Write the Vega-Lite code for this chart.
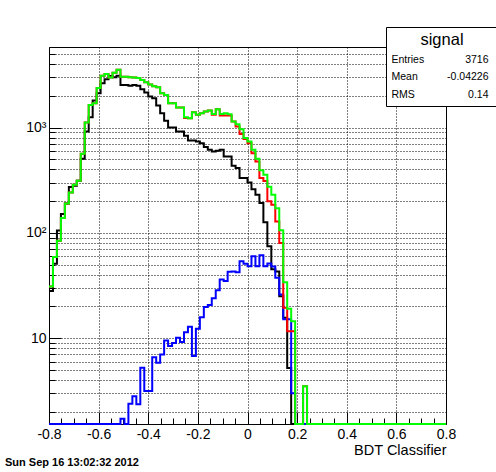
{
  "$schema": "https://vega.github.io/schema/vega-lite/v6.json",
  "width": 397,
  "height": 377,
  "autosize": {"type": "none"},
  "padding": {"left": 49, "top": 47, "right": 50, "bottom": 48},
  "background": "white",
  "config": {
    "font": "Liberation Sans",
    "view": {"stroke": "black", "strokeWidth": 1},
    "axis": {"labelColor": "black", "tickColor": "black", "titleColor": "black", "labelOverlap": false}
  },
  "title": {
    "text": "Sun Sep 16 13:02:32 2012",
    "orient": "bottom",
    "anchor": "start",
    "frame": "group",
    "fontSize": 11,
    "fontWeight": "bold",
    "color": "black",
    "dx": -44,
    "offset": 0
  },
  "datasets": {
    "bins": [
      {"x": -0.8, "black": 28, "blue": 0, "red": 31, "green": 31},
      {"x": -0.784, "black": 51, "blue": 0, "red": 59, "green": 59},
      {"x": -0.768, "black": 105, "blue": 0, "red": 84, "green": 84},
      {"x": -0.752, "black": 151, "blue": 0, "red": 138, "green": 138},
      {"x": -0.736, "black": 190, "blue": 0, "red": 190, "green": 190},
      {"x": -0.72, "black": 272, "blue": 0, "red": 242, "green": 242},
      {"x": -0.704, "black": 280, "blue": 0, "red": 286, "green": 286},
      {"x": -0.688, "black": 313, "blue": 0, "red": 313, "green": 313},
      {"x": -0.672, "black": 505, "blue": 0, "red": 563, "green": 563},
      {"x": -0.656, "black": 917, "blue": 0, "red": 1115, "green": 1115},
      {"x": -0.64, "black": 1255, "blue": 0, "red": 1640, "green": 1640},
      {"x": -0.624, "black": 1803, "blue": 0, "red": 1700, "green": 1700},
      {"x": -0.608, "black": 2120, "blue": 0, "red": 2380, "green": 2380},
      {"x": -0.592, "black": 2636, "blue": 0, "red": 3110, "green": 3110},
      {"x": -0.576, "black": 2875, "blue": 0, "red": 3230, "green": 3230},
      {"x": -0.56, "black": 3090, "blue": 0, "red": 2980, "green": 2980},
      {"x": -0.544, "black": 3000, "blue": 0, "red": 3320, "green": 3320},
      {"x": -0.528, "black": 3110, "blue": 0, "red": 3530, "green": 3530},
      {"x": -0.512, "black": 2540, "blue": 1.72, "red": 3040, "green": 3040},
      {"x": -0.496, "black": 2540, "blue": 0, "red": 3040, "green": 3040},
      {"x": -0.48, "black": 2490, "blue": 2.38, "red": 3000, "green": 3000},
      {"x": -0.464, "black": 2540, "blue": 2.8, "red": 2980, "green": 2980},
      {"x": -0.448, "black": 2490, "blue": 2.35, "red": 2950, "green": 2950},
      {"x": -0.432, "black": 2312, "blue": 5.24, "red": 2830, "green": 2830},
      {"x": -0.416, "black": 2150, "blue": 3.15, "red": 2690, "green": 2690},
      {"x": -0.4, "black": 1967, "blue": 3.15, "red": 2560, "green": 2560},
      {"x": -0.384, "black": 1900, "blue": 6.6, "red": 2470, "green": 2470},
      {"x": -0.368, "black": 1617, "blue": 5.85, "red": 2420, "green": 2420},
      {"x": -0.352, "black": 1369, "blue": 7.0, "red": 2120, "green": 2120},
      {"x": -0.336, "black": 1158, "blue": 9.5, "red": 2040, "green": 2040},
      {"x": -0.32, "black": 1000, "blue": 8.4, "red": 1703, "green": 1703},
      {"x": -0.304, "black": 1000, "blue": 9.0, "red": 1703, "green": 1703},
      {"x": -0.288, "black": 917, "blue": 10.1, "red": 1548, "green": 1548},
      {"x": -0.272, "black": 917, "blue": 9.2, "red": 1548, "green": 1548},
      {"x": -0.256, "black": 834, "blue": 11.4, "red": 1230, "green": 1255},
      {"x": -0.24, "black": 753, "blue": 12.8, "red": 1227, "green": 1227},
      {"x": -0.224, "black": 753, "blue": 6.75, "red": 1400, "green": 1400},
      {"x": -0.208, "black": 737, "blue": 12.3, "red": 1320, "green": 1320},
      {"x": -0.192, "black": 711, "blue": 15.8, "red": 1369, "green": 1369},
      {"x": -0.176, "black": 652, "blue": 19.8, "red": 1419, "green": 1419},
      {"x": -0.16, "black": 615, "blue": 20.7, "red": 1450, "green": 1450},
      {"x": -0.144, "black": 593, "blue": 23.9, "red": 1320, "green": 1348},
      {"x": -0.128, "black": 601, "blue": 28.5, "red": 1494, "green": 1494},
      {"x": -0.112, "black": 615, "blue": 36, "red": 1300, "green": 1348},
      {"x": -0.096, "black": 531, "blue": 34.8, "red": 1300, "green": 1369},
      {"x": -0.08, "black": 531, "blue": 42.6, "red": 1300, "green": 1340},
      {"x": -0.064, "black": 434, "blue": 43, "red": 1140, "green": 1140},
      {"x": -0.048, "black": 412, "blue": 42.2, "red": 1022, "green": 1072},
      {"x": -0.032, "black": 331, "blue": 53.7, "red": 870, "green": 962},
      {"x": -0.016, "black": 331, "blue": 51, "red": 780, "green": 794},
      {"x": 0, "black": 301, "blue": 48.2, "red": 711, "green": 737},
      {"x": 0.016, "black": 260, "blue": 59.8, "red": 571, "green": 615},
      {"x": 0.032, "black": 230, "blue": 48.2, "red": 476, "green": 505},
      {"x": 0.048, "black": 192, "blue": 61.2, "red": 331, "green": 394},
      {"x": 0.064, "black": 126, "blue": 48.2, "red": 310, "green": 356},
      {"x": 0.08, "black": 74.5, "blue": 51.1, "red": 200, "green": 274},
      {"x": 0.096, "black": 45, "blue": 48, "red": 185, "green": 230},
      {"x": 0.112, "black": 43, "blue": 37.4, "red": 128, "green": 171},
      {"x": 0.128, "black": 25, "blue": 26, "red": 80, "green": 106},
      {"x": 0.144, "black": 15.6, "blue": 15.1, "red": 19.4, "green": 34},
      {"x": 0.16, "black": 5.2, "blue": 15.1, "red": 11.6, "green": 19},
      {"x": 0.176, "black": 0, "blue": 3.0, "red": 11.6, "green": 14.5},
      {"x": 0.192, "black": 0, "blue": 0, "red": 0, "green": 0},
      {"x": 0.208, "black": 0, "blue": 0, "red": 0, "green": 0},
      {"x": 0.224, "black": 0, "blue": 0, "red": 3.5, "green": 3.5},
      {"x": 0.24, "black": 0, "blue": 0, "red": 0, "green": 0},
      {"x": 0.256, "black": 0, "blue": 0, "red": 0, "green": 0},
      {"x": 0.272, "black": 0, "blue": 0, "red": 0, "green": 0},
      {"x": 0.288, "black": 0, "blue": 0, "red": 0, "green": 0},
      {"x": 0.304, "black": 0, "blue": 0, "red": 0, "green": 0},
      {"x": 0.32, "black": 0, "blue": 0, "red": 0, "green": 0},
      {"x": 0.336, "black": 0, "blue": 0, "red": 0, "green": 0},
      {"x": 0.352, "black": 0, "blue": 0, "red": 0, "green": 0},
      {"x": 0.368, "black": 0, "blue": 0, "red": 0, "green": 0},
      {"x": 0.384, "black": 0, "blue": 0, "red": 0, "green": 0},
      {"x": 0.4, "black": 0, "blue": 0, "red": 0, "green": 0},
      {"x": 0.416, "black": 0, "blue": 0, "red": 0, "green": 0},
      {"x": 0.432, "black": 0, "blue": 0, "red": 0, "green": 0},
      {"x": 0.448, "black": 0, "blue": 0, "red": 0, "green": 0},
      {"x": 0.464, "black": 0, "blue": 0, "red": 0, "green": 0},
      {"x": 0.48, "black": 0, "blue": 0, "red": 0, "green": 0},
      {"x": 0.496, "black": 0, "blue": 0, "red": 0, "green": 0},
      {"x": 0.512, "black": 0, "blue": 0, "red": 0, "green": 0},
      {"x": 0.528, "black": 0, "blue": 0, "red": 0, "green": 0},
      {"x": 0.544, "black": 0, "blue": 0, "red": 0, "green": 0},
      {"x": 0.56, "black": 0, "blue": 0, "red": 0, "green": 0},
      {"x": 0.576, "black": 0, "blue": 0, "red": 0, "green": 0},
      {"x": 0.592, "black": 0, "blue": 0, "red": 0, "green": 0},
      {"x": 0.608, "black": 0, "blue": 0, "red": 0, "green": 0},
      {"x": 0.624, "black": 0, "blue": 0, "red": 0, "green": 0},
      {"x": 0.64, "black": 0, "blue": 0, "red": 0, "green": 0},
      {"x": 0.656, "black": 0, "blue": 0, "red": 0, "green": 0},
      {"x": 0.672, "black": 0, "blue": 0, "red": 0, "green": 0},
      {"x": 0.688, "black": 0, "blue": 0, "red": 0, "green": 0},
      {"x": 0.704, "black": 0, "blue": 0, "red": 0, "green": 0},
      {"x": 0.72, "black": 0, "blue": 0, "red": 0, "green": 0},
      {"x": 0.736, "black": 0, "blue": 0, "red": 0, "green": 0},
      {"x": 0.752, "black": 0, "blue": 0, "red": 0, "green": 0},
      {"x": 0.768, "black": 0, "blue": 0, "red": 0, "green": 0},
      {"x": 0.784, "black": 0, "blue": 0, "red": 0, "green": 0},
      {"x": 0.8, "black": 0, "blue": 0, "red": 0, "green": 0}
    ],
    "stats": [
      {"k": "Entries"}, {"k": "Mean"}, {"k": "RMS"},
      {"k": "3716"}, {"k": "-0.04226"}, {"k": "0.14"}
    ]
  },
  "layer": [
    {
      "data": {"name": "bins"},
      "mark": {"type": "line", "interpolate": "step-after", "color": "black", "strokeWidth": 2, "strokeJoin": "miter", "invalid": "show"},
      "encoding": {
        "x": {"field": "x", "type": "quantitative",
          "scale": {"domain": [-0.8, 0.8], "nice": false, "zero": false},
          "axis": {"orient": "bottom", "values": [-0.75, -0.7, -0.65, -0.55, -0.5, -0.45, -0.35, -0.3, -0.25, -0.15, -0.1, -0.05, 0.05, 0.1, 0.15, 0.25, 0.3, 0.35, 0.45, 0.5, 0.55, 0.65, 0.7, 0.75],
            "tickSize": -6, "labels": false, "domain": false, "grid": false, "title": null}},
        "y": {"field": "black", "type": "quantitative",
          "scale": {"type": "log", "domain": [1.53, 5820], "clamp": true, "nice": false},
          "axis": {"orient": "left", "values": [2, 3, 4, 5, 6, 7, 8, 9, 10, 20, 30, 40, 50, 60, 70, 80, 90, 100, 200, 300, 400, 500, 600, 700, 800, 900, 1000, 2000, 3000, 4000, 5000],
            "tickSize": -6, "labels": false, "domain": false, "grid": true, "gridColor": "black", "gridDash": [1, 2], "gridWidth": 1, "title": null}}
      }
    },
    {
      "data": {"name": "bins"},
      "mark": {"type": "line", "interpolate": "step-after", "color": "#0000ff", "strokeWidth": 2, "strokeJoin": "miter", "invalid": "show"},
      "encoding": {
        "x": {"field": "x", "type": "quantitative",
          "axis": {"orient": "bottom", "values": [-0.8, -0.6, -0.4, -0.2, 0, 0.2, 0.4, 0.6, 0.8],
            "tickSize": -12, "labels": false, "domain": false, "grid": true, "gridColor": "black", "gridDash": [1, 2], "gridWidth": 1, "title": null}},
        "y": {"field": "blue", "type": "quantitative",
          "axis": {"orient": "left", "values": [10, 100, 1000], "tickSize": -12, "labels": false, "domain": false, "grid": false, "title": null}}
      }
    },
    {
      "data": {"name": "bins"},
      "mark": {"type": "line", "interpolate": "step-after", "color": "#ff0000", "strokeWidth": 2, "strokeJoin": "miter", "invalid": "show"},
      "encoding": {
        "x": {"field": "x", "type": "quantitative",
          "axis": {"orient": "bottom", "values": [-0.8, -0.6, -0.4, -0.2, 0, 0.2, 0.4, 0.6, 0.8],
            "ticks": false, "labels": true, "labelExpr": "'' + datum.value", "labelFontSize": 14, "labelPadding": 3, "labelFlush": false,
            "domain": false, "grid": false,
            "title": "BDT Classifier", "titleAnchor": "end", "titleFontSize": 14.5, "titleFontWeight": "normal", "titlePadding": 2}},
        "y": {"field": "red", "type": "quantitative",
          "axis": {"orient": "left", "values": [10, 100, 1000], "ticks": false, "labels": true,
            "labelExpr": "datum.value == 10 ? '10' : datum.value == 100 ? '10²' : '10³'",
            "labelFontSize": 14, "labelPadding": 3, "domain": false, "grid": false, "title": null}}
      }
    },
    {
      "data": {"name": "bins"},
      "mark": {"type": "line", "interpolate": "step-after", "color": "#00ff00", "strokeWidth": 2, "strokeJoin": "miter", "invalid": "show"},
      "encoding": {
        "x": {"field": "x", "type": "quantitative", "axis": null},
        "y": {"field": "green", "type": "quantitative", "axis": null}
      }
    },
    {
      "data": {"name": "stats"},
      "mark": {"type": "point", "opacity": 0, "size": 0.01},
      "encoding": {
        "shape": {"field": "k", "type": "nominal", "sort": null,
          "legend": {
            "title": "signal", "orient": "none", "legendX": 337, "legendY": -20,
            "columns": 2, "columnPadding": 22, "rowPadding": 6.5,
            "symbolSize": 0.01, "symbolOpacity": 0, "symbolStrokeWidth": 0, "labelOffset": -10,
            "labelFontSize": 10.5, "labelColor": "black", "labelLimit": 200,
            "labelAlign": {"expr": "datum.label == '3716' || datum.label == '0.14' || datum.label == '-0.04226' ? 'right' : 'left'"},
            "titleFontSize": 16.5, "titleFontWeight": "normal", "titleColor": "black",
            "titleAnchor": "middle", "titleAlign": "center", "titlePadding": 6,
            "strokeColor": "black", "fillColor": "white", "padding": 5
          }}
      }
    }
  ],
  "resolve": {"axis": {"x": "independent", "y": "independent"}, "scale": {"shape": "independent"}}
}
